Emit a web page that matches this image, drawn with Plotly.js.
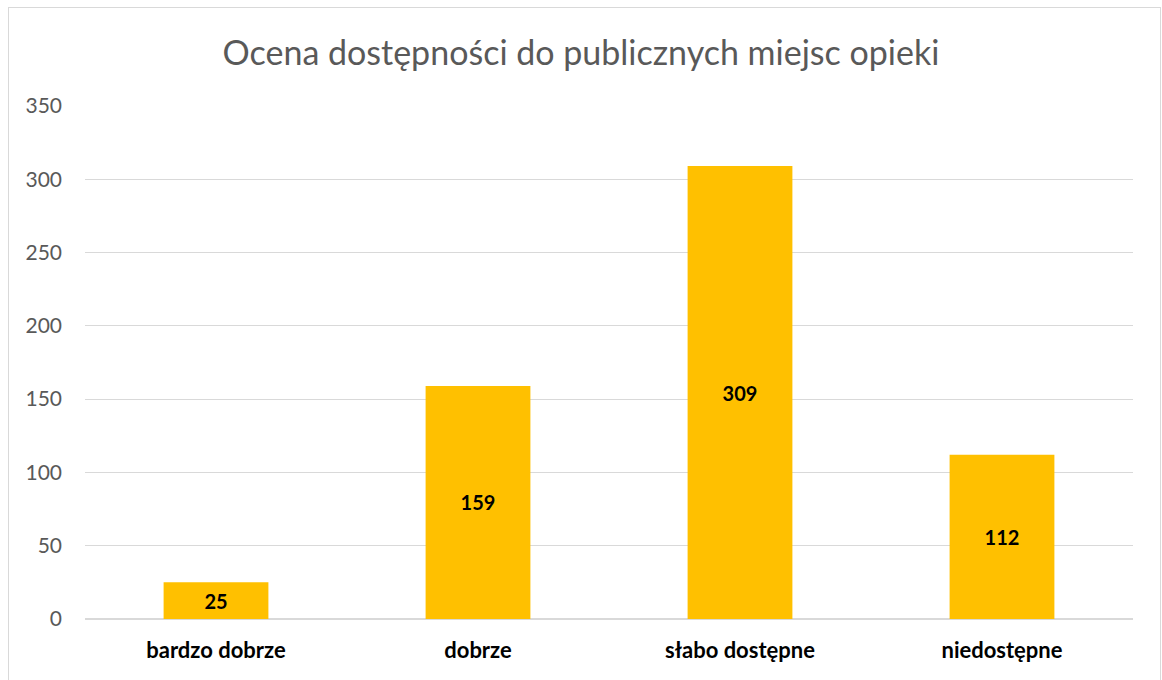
<!DOCTYPE html>
<html>
<head>
<meta charset="utf-8">
<script src="https://cdn.plot.ly/plotly-3.0.1.min.js"></script>
<style>
html,body{margin:0;padding:0;background:#fff;}
#wrap{position:relative;width:1162px;height:680px;overflow:hidden;}
#chart{width:1162px;height:680px;}
#frame{position:absolute;left:8px;top:7px;width:1153px;height:690px;border:1px solid #d9d9d9;box-sizing:border-box;pointer-events:none;}
</style>
</head>
<body>
<div id="wrap"><div id="chart"></div><div id="frame"></div></div>
<script>
const categories = ["bardzo dobrze", "dobrze", "słabo dostępne", "niedostępne"];
const values = [25, 159, 309, 112];
const yTicks = [0, 50, 100, 150, 200, 250, 300, 350];
const chartTitle = "Ocena dostępności do publicznych miejsc opieki";

const font = "Lato, 'Open Sans', sans-serif";

Plotly.newPlot("chart", [{
  type: "bar",
  x: categories,
  y: values,
  marker: {color: "#FFC000"},
  text: values.map(String),
  textposition: "inside",
  insidetextanchor: "middle",
  textfont: {family: font, size: 20, color: "#000000", weight: "bold"},
  constraintext: "none",
  hoverinfo: "x+y"
}], {
  width: 1162,
  height: 680,
  margin: {l: 85, r: 29, t: 106, b: 61},
  paper_bgcolor: "#ffffff",
  plot_bgcolor: "#ffffff",
  bargap: 0.6,
  showlegend: false,
  title: {
    text: chartTitle,
    x: 0.5, xref: "container", xanchor: "center",
    y: 47, yref: "container", yanchor: "middle",
    font: {family: font, size: 34, color: "#595959"}
  },
  xaxis: {
    type: "category",
    showgrid: false,
    showline: false,
    zeroline: false,
    ticks: "",
    tickfont: {family: font, size: 22, color: "#000000", weight: "bold"},
    ticklabelstandoff: 16
  },
  yaxis: {
    range: [0, 350],
    tickvals: yTicks,
    ticktext: yTicks.map(String),
    showgrid: true,
    gridcolor: "#d9d9d9",
    gridwidth: 1.2,
    zeroline: true,
    zerolinecolor: "#d9d9d9",
    zerolinewidth: 1.5,
    showline: false,
    ticks: "",
    tickfont: {family: font, size: 21, color: "#595959"},
    ticklabelstandoff: 22
  }
}, {displayModeBar: false});
</script>
</body>
</html>
